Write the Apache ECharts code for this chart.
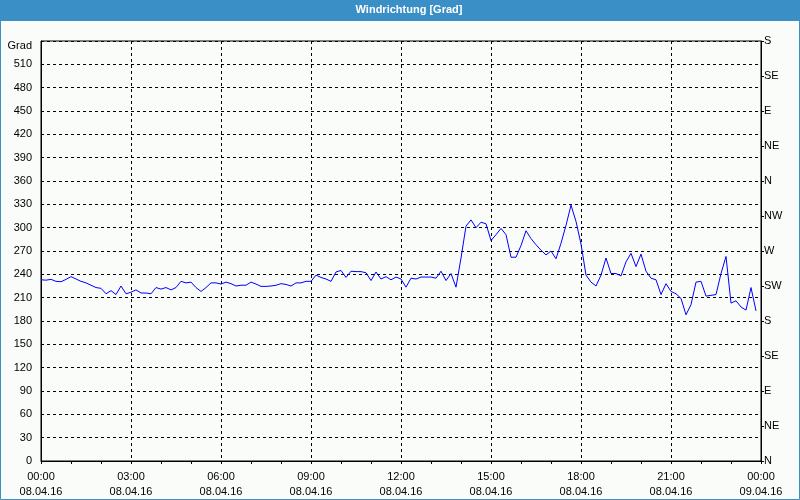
<!DOCTYPE html>
<html>
<head>
<meta charset="utf-8">
<script src="https://cdn.jsdelivr.net/npm/echarts@6/dist/echarts.min.js"></script>
<style>
html,body{margin:0;padding:0;background:#fafcfa;}
#c{width:800px;height:500px;}
</style>
</head>
<body>
<div id="c"></div>
<script>
// Chart data
const titleText = 'Windrichtung [Grad]';
const unitLabel = 'Grad';
const startMinute = 0;          // 08.04.16 00:00
const stepMinutes = 10;         // sampling interval
const dateLabels = ['08.04.16', '09.04.16'];
const compassLabels = ['N','NE','E','SE','S','SW','W','NW','N','NE','E','SE','S'];
const windDirection = [
  233,232.5,233.5,231,230.5,233.5,237,234,231,229,
  226,223,222,215,219,214,225,215,217,220,
  216,216,215,223,221,223,220,223,231,229,
  230,223,218,223,229,229,227.5,230,228,225,
  226,226,230,227.5,224.5,224.5,225,226,228,227,
  225,229,229,231,231,239,236,234,231,243,
  245,236,244,243.5,243.5,242,232,243,234,237,
  233,236.5,234,223.5,235,234,236.5,236.5,236.5,235,
  244,232,241,223.5,261,302,310,300,307,305,
  283.5,291,299,291,262,262,277,296,286,278,
  271,265,270,260,280,303,329,308,279,239,
  230,225,239,261,241,241,238,256,267,250,
  266,244,235,233,214,228,218,215,209,188,
  201,230,231,212,213,214,241,263,203,206,
  198,194,223,193
];

const seriesData = windDirection.map((v, i) => [startMinute + i * stepMinutes, v]);
const font = "'Liberation Sans', Arial, sans-serif";
const pad2 = n => (n < 10 ? '0' : '') + n;

const chart = echarts.init(document.getElementById('c'), null, {renderer: 'canvas'});
chart.setOption({
  backgroundColor: '#fafcfa',
  animation: false,
  graphic: [
    {type: 'rect', left: 0, top: 0, shape: {x: 0, y: 0, width: 800, height: 21}, style: {fill: '#3b8fc7'}, silent: true},
    {type: 'rect', shape: {x: 0.5, y: 0.5, width: 799, height: 499}, style: {fill: null, stroke: '#3b8fc7', lineWidth: 1}, silent: true}
  ],
  title: {
    text: titleText,
    left: 409, top: 4, textAlign: 'center',
    textStyle: {color: '#ffffff', fontSize: 11, fontWeight: 'bold', fontFamily: font},
    padding: 0
  },
  grid: {left: 41, right: 39, top: 41, bottom: 39, show: true, borderColor: '#000', borderWidth: 1, backgroundColor: 'transparent'},
  xAxis: {
    type: 'value', min: 0, max: 1440, interval: 180,
    axisLine: {lineStyle: {color: '#000', width: 1}},
    axisTick: {show: true, length: 3, lineStyle: {color: '#000'}},
    minorTick: {show: true, splitNumber: 3, length: 3, lineStyle: {color: '#000'}},
    splitLine: {show: true, lineStyle: {color: '#000', type: [3, 3], width: 1}},
    axisLabel: {
      color: '#000', fontSize: 11, fontFamily: font, margin: 8, lineHeight: 15,
      showMinLabel: true, showMaxLabel: true,
      formatter: v => pad2(Math.floor(v / 60) % 24) + ':' + pad2(v % 60) + '\n' + dateLabels[v >= 1440 ? 1 : 0]
    }
  },
  yAxis: [
    {
      type: 'value', min: 0, max: 540, interval: 30, position: 'left',
      axisLine: {show: true, lineStyle: {color: '#000', width: 1}},
      axisTick: {show: false},
      splitLine: {show: true, lineStyle: {color: '#000', type: [3, 3], width: 1}},
      axisLabel: {
        color: '#000', fontSize: 11, fontFamily: font, margin: 9,
        showMaxLabel: true,
        formatter: v => (v === 540 ? '{g|' + unitLabel + '}' : String(v)),
        rich: {g: {fontSize: 11, fontFamily: font, color: '#000', padding: [10, 0, 0, 0]}}
      }
    },
    {
      type: 'value', min: 0, max: 540, interval: 45, position: 'right',
      axisLine: {show: true, lineStyle: {color: '#000', width: 1}},
      axisTick: {show: true, length: 3, lineStyle: {color: '#000'}},
      splitLine: {show: false},
      axisLabel: {
        color: '#000', fontSize: 11, fontFamily: font, margin: 3,
        showMaxLabel: true, showMinLabel: true,
        formatter: v => compassLabels[Math.round(v / 45)]
      }
    }
  ],
  series: [{
    type: 'line',
    data: seriesData,
    yAxisIndex: 0,
    showSymbol: false,
    symbol: 'none',
    lineStyle: {color: '#0000ff', width: 1},
    itemStyle: {color: '#0000ff'},
    z: 5
  }]
});
</script>
</body>
</html>
